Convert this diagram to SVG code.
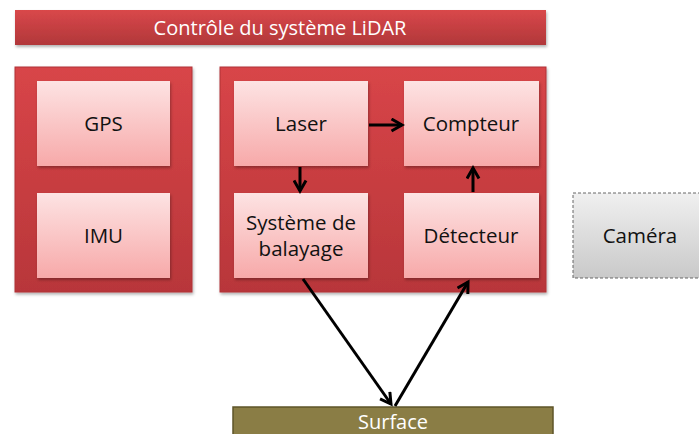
<svg xmlns="http://www.w3.org/2000/svg" width="699" height="434" viewBox="0 0 699 434">
<defs>
<linearGradient id="gRed" x1="0" y1="0" x2="0" y2="1">
<stop offset="0" stop-color="#d84548"/>
<stop offset="1" stop-color="#b8363a"/>
</linearGradient>
<linearGradient id="gTitle" x1="0" y1="0" x2="0" y2="1">
<stop offset="0" stop-color="#d9484a"/>
<stop offset="1" stop-color="#b1373a"/>
</linearGradient>
<linearGradient id="gPink" x1="0" y1="0" x2="0" y2="1">
<stop offset="0" stop-color="#fde3e3"/>
<stop offset="1" stop-color="#f7a9a9"/>
</linearGradient>
<linearGradient id="gGrey" x1="0" y1="0" x2="0" y2="1">
<stop offset="0" stop-color="#f0f0f0"/>
<stop offset="1" stop-color="#c9c9c9"/>
</linearGradient>
<filter id="sh" x="-10%" y="-10%" width="120%" height="130%">
<feDropShadow dx="1" dy="2" stdDeviation="1.5" flood-color="#000" flood-opacity="0.3"/>
</filter>
<marker id="ah" viewBox="0 0 10 10" refX="8" refY="5" markerWidth="5" markerHeight="5" orient="auto">
<path d="M1,1 L8,5 L1,9" fill="none" stroke="#000" stroke-width="2"/>
</marker>
<style>
.panel{fill:url(#gRed);stroke:#b03336;stroke-width:1}
.box{fill:url(#gPink);filter:url(#sh)}
.lbl{font-family:"Open Sans","Liberation Sans",sans-serif;font-size:20.5px;fill:#111;text-anchor:middle}
.wlbl{font-family:"Open Sans","Liberation Sans",sans-serif;font-size:20px;fill:#fff;text-anchor:middle}
.conn{stroke:#000;stroke-width:3;fill:none;marker-end:url(#ah)}
</style>
</defs>
<rect width="699" height="434" fill="#fff"/>
<g id="title">
<rect x="15" y="10" width="531" height="35" fill="url(#gTitle)" filter="url(#sh)"/>
<text class="wlbl" x="280" y="35" font-size="22">Contrôle du système LiDAR</text>
</g>
<g id="panel-left">
<rect class="panel" x="15" y="67" width="177" height="225" filter="url(#sh)"/>
</g>
<g id="panel-right">
<rect class="panel" x="220" y="67" width="326" height="225" filter="url(#sh)"/>
</g>
<g id="gps">
<rect class="box" x="37" y="81" width="133" height="85"/>
<text class="lbl" x="103.5" y="131">GPS</text>
</g>
<g id="imu">
<rect class="box" x="37" y="193" width="133" height="85"/>
<text class="lbl" x="103.5" y="243">IMU</text>
</g>
<g id="laser">
<rect class="box" x="234" y="81" width="134" height="85"/>
<text class="lbl" x="301" y="131">Laser</text>
</g>
<g id="compteur">
<rect class="box" x="404" y="81" width="135" height="85"/>
<text class="lbl" x="471" y="131">Compteur</text>
</g>
<g id="balayage">
<rect class="box" x="234" y="193" width="134" height="85"/>
<text class="lbl" x="301" y="230">Système de</text>
<text class="lbl" x="301" y="256">balayage</text>
</g>
<g id="detecteur">
<rect class="box" x="404" y="193" width="135" height="85"/>
<text class="lbl" x="471" y="243">Détecteur</text>
</g>
<g id="camera">
<rect x="573" y="193" width="130" height="85" fill="url(#gGrey)" stroke="#666" stroke-width="1" stroke-dasharray="3,2"/>
<text class="lbl" x="640" y="243">Caméra</text>
</g>
<g id="surface">
<rect x="233" y="407" width="320" height="30" fill="#8a7d45" stroke="#5e5428" stroke-width="1.5"/>
<text class="wlbl" x="393" y="429" font-size="18">Surface</text>
</g>
<g id="connectors">
<line class="conn" x1="369" y1="125" x2="402" y2="125"/>
<line class="conn" x1="300" y1="167" x2="300" y2="191"/>
<line class="conn" x1="473" y1="192" x2="473" y2="168"/>
<line class="conn" x1="303" y1="279" x2="391" y2="404"/>
<line class="conn" x1="395" y1="406" x2="468" y2="282"/>
</g>
</svg>
